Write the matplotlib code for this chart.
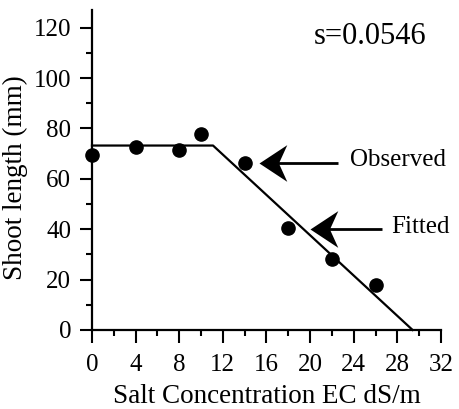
import matplotlib

matplotlib.use("Agg")
import matplotlib.pyplot as plt
from matplotlib.path import Path
from matplotlib.ticker import MultipleLocator

plt.rcParams["font.family"] = ["Liberation Serif", "DejaVu Serif"]

# observed shoot length vs. salinity
salt_ec = [0, 4, 8, 10, 14, 18, 22, 26]
shoot_len = [69.5, 72.7, 71.3, 77.6, 66.2, 40.5, 28.2, 17.9]

# piecewise-linear fit: plateau, threshold, zero intercept
fit_ec = [0, 11.1, 29.4]
fit_len = [73.2, 73.2, 0]
slope_label = "s=0.0546"

x_ticks = [0, 4, 8, 12, 16, 20, 24, 28, 32]
y_ticks = [0, 20, 40, 60, 80, 100, 120]

# barbed arrow head pointing left, tip at the origin
HEAD = Path([(0, 0), (1, 0.66), (0.7, 0), (1, -0.66), (0, 0)],
            [Path.MOVETO, Path.LINETO, Path.LINETO, Path.LINETO, Path.CLOSEPOLY])

fig = plt.figure(figsize=(4.59, 4.09), dpi=100)
ax = fig.add_axes([0.2004, 0.1932, 0.7603, 0.7824])

ax.plot(fit_ec, fit_len, color="black", lw=1.6, zorder=2, clip_on=False)
ax.plot(salt_ec, shoot_len, "o", color="black", markersize=9.5, zorder=3, clip_on=False)

ax.set_xlim(0, 32)
ax.set_ylim(0, 127)
ax.set_xticks(x_ticks)
ax.set_yticks(y_ticks)
ax.xaxis.set_minor_locator(MultipleLocator(2))
ax.yaxis.set_minor_locator(MultipleLocator(10))

for side in ("top", "right"):
    ax.spines[side].set_visible(False)
for side in ("left", "bottom"):
    ax.spines[side].set_linewidth(1.6)

ax.tick_params(which="major", direction="out", length=9, width=1.5, labelsize=18)
ax.tick_params(which="minor", direction="out", length=4.5, width=1.5)
ax.tick_params(axis="x", which="major", pad=8)
ax.tick_params(axis="y", which="major", pad=6)

ax.set_xlabel("Salt Concentration EC dS/m", fontsize=19.5, va="baseline")
ax.xaxis.set_label_coords(0.5, -0.228)
ax.set_ylabel("Shoot length (mm)", fontsize=19.5, va="center")
ax.yaxis.set_label_coords(-0.2206, 0.475)

ax.text(20.3, 113.6, slope_label, fontsize=22, ha="left", va="baseline")


def callout(tip_x, tail_x, y, label, label_x, label_y):
    ax.plot([tip_x + 1.2, tail_x], [y, y], color="black", lw=2.0, solid_capstyle="butt",
            zorder=4, clip_on=False)
    ax.plot([tip_x], [y], marker=HEAD, markersize=40, color="black", markeredgewidth=0,
            zorder=5, clip_on=False)
    ax.text(label_x, label_y, label, fontsize=18, ha="left", va="baseline")


callout(15.3, 22.6, 66.3, "Observed", 23.7, 65.2)
callout(20.0, 26.6, 40.1, "Fitted", 27.4, 38.5)

fig.savefig("out.png", dpi=100, facecolor="white")
